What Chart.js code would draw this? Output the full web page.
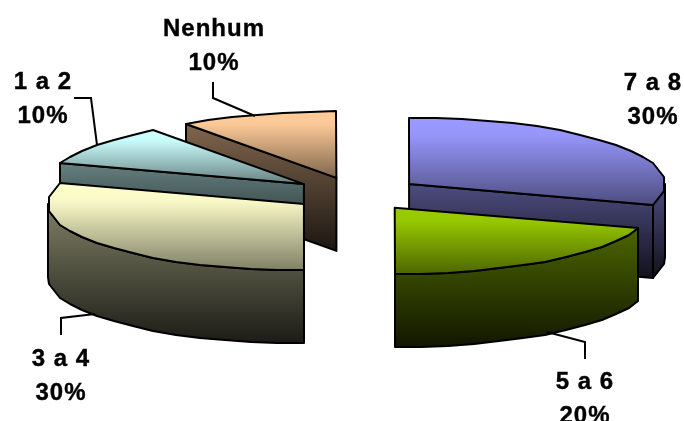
<!DOCTYPE html>
<html lang="pt">
<head>
<meta charset="UTF-8" />
<title>Pizza 3D</title>
<script src="https://cdn.jsdelivr.net/npm/chart.js"></script>
<style>
  html, body { margin: 0; padding: 0; background: #fff; overflow: hidden; }
  canvas { display: block; }
</style>
</head>
<body>
<canvas id="pie" width="684" height="421"></canvas>
<script>
  const categories = ['7 a 8', '5 a 6', '3 a 4', '1 a 2', 'Nenhum'];
  const values = [30, 20, 30, 10, 10];
  const colors = ['#9999ff', '#99cc00', '#ffffcc', '#ccffff', '#ffcc99'];

  // back slices first so the front ones cover them
  const drawOrder = [0, 4, 3, 2, 1];

  const TILT = 0.26;
  const DEPTH = 73;
  const STEP = Math.PI / 30;

  // label centre x, first baseline y, then leader line
  const labelLayout = [
    { x: 653, y: 90,  leader: [] },
    { x: 585, y: 389, leader: [[585, 359], [585, 342], [547, 332]] },
    { x: 61,  y: 366, leader: [[61, 335], [61, 318], [95, 314]] },
    { x: 43,  y: 89,  leader: [[74, 98], [91, 98], [97, 145]] },
    { x: 214, y: 36,  leader: [[213, 82], [213, 98], [255, 116]] }
  ];

  function shade(hex, f) {
    const n = parseInt(hex.slice(1), 16);
    const c = [n >> 16, (n >> 8) & 255, n & 255].map(v => Math.round(v * f));
    return `rgb(${c[0]},${c[1]},${c[2]})`;
  }

  function vGradient(ctx, y0, y1, stops) {
    const g = ctx.createLinearGradient(0, y0, 0, y1);
    stops.forEach(s => g.addColorStop(s[0], s[1]));
    return g;
  }

  function outline(ctx, pts, fill) {
    ctx.beginPath();
    pts.forEach((p, i) => i ? ctx.lineTo(p[0], p[1]) : ctx.moveTo(p[0], p[1]));
    ctx.closePath();
    ctx.fillStyle = fill;
    ctx.fill();
    ctx.stroke();
  }

  function drawSlice(ctx, arc, base) {
    const { x, y, startAngle, endAngle, outerRadius: r } = arc;
    const mid = (startAngle + endAngle) / 2;
    const off = arc.options.offset / 4;
    const ax = x + Math.cos(mid) * off;
    const ay = y + Math.sin(mid) * off * TILT;
    const rim = a => [Math.round(ax + Math.cos(a) * r), Math.round(ay + Math.sin(a) * r * TILT)];
    // the rim is a polygon, coarser at the far left and right where it turns
    const sweep = (a0, a1) => {
      const pts = [rim(a0)];
      let k = Math.floor(a0 / STEP + 1e-6) + 1;
      for (; k * STEP < a1 - 1e-6; k++) {
        const a = k * STEP;
        if (Math.abs(Math.sin(a)) < 0.3 && k % 2 === 0) continue;
        pts.push(rim(a));
      }
      pts.push(rim(a1));
      return pts;
    };
    const drop = p => [p[0], p[1] + DEPTH];
    const apex = [ax, ay];

    const top = [apex].concat(sweep(startAngle, endAngle));
    const ys = top.map(p => p[1]);
    const topY = Math.min(...ys), botY = Math.max(...ys);

    const walls = [];
    // cut faces turned towards the viewer
    if (Math.cos(startAngle) < -1e-6) {
      const p = rim(startAngle);
      walls.push([apex, p, drop(p), drop(apex)]);
    }
    if (Math.cos(endAngle) > 1e-6) {
      const p = rim(endAngle);
      walls.push([apex, p, drop(p), drop(apex)]);
    }
    // outer wall, only the front half of the rim shows
    const a0 = Math.max(startAngle, 0), a1 = Math.min(endAngle, Math.PI);
    if (a1 > a0) {
      const edge = sweep(a0, a1);
      walls.push(edge.concat(edge.map(drop).reverse()));
    }

    ctx.lineWidth = 2;
    ctx.strokeStyle = '#000';
    ctx.lineJoin = 'round';

    if (walls.length) {
      const wallY = walls.flat().map(p => p[1]);
      const sideFill = vGradient(ctx, Math.min(...wallY), Math.max(...wallY),
        [[0, shade(base, 0.5)], [1, shade(base, 0.11)]]);
      walls.forEach(w => outline(ctx, w, sideFill));
    }

    const topFill = vGradient(ctx, topY, botY, [[0, shade(base, 1)], [0.2, shade(base, 0.98)], [1, shade(base, 0.5)]]);
    outline(ctx, top, topFill);
  }

  const pie3d = {
    id: 'pie3d',
    beforeDatasetDraw(chart, args) {
      const ctx = chart.ctx;
      const arcs = args.meta.data;
      ctx.save();
      drawOrder.forEach(i => drawSlice(ctx, arcs[i], colors[i]));
      ctx.restore();
      return false;
    },
    afterDraw(chart) {
      const ctx = chart.ctx;
      const total = values.reduce((a, b) => a + b, 0);
      ctx.save();
      labelLayout.forEach((l, i) => {
        ctx.lineWidth = 2;
        ctx.strokeStyle = '#000';
        if (l.leader.length) {
          ctx.beginPath();
          l.leader.forEach((p, k) => k ? ctx.lineTo(p[0], p[1]) : ctx.moveTo(p[0], p[1]));
          ctx.stroke();
        }
        const pct = Math.round(values[i] / total * 100) + '%';
        ctx.fillStyle = '#000';
        ctx.font = 'bold 24px "Liberation Sans", Arial, sans-serif';
        ctx.letterSpacing = '1px';
        ctx.textAlign = 'center';
        ctx.lineWidth = 0.4;
        ctx.fillText(categories[i], l.x, l.y);
        ctx.strokeText(categories[i], l.x, l.y);
        ctx.fillText(pct, l.x, l.y + 34);
        ctx.strokeText(pct, l.x, l.y + 34);
      });
      ctx.restore();
    }
  };

  new Chart(document.getElementById('pie'), {
    type: 'pie',
    data: {
      labels: categories,
      datasets: [{ data: values, backgroundColor: colors, offset: 260 }]
    },
    options: {
      responsive: false,
      animation: false,
      radius: 256,
      layout: { padding: { left: 29, bottom: 33 } },
      plugins: { legend: { display: false }, tooltip: { enabled: false } }
    },
    plugins: [pie3d]
  });
</script>
</body>
</html>
